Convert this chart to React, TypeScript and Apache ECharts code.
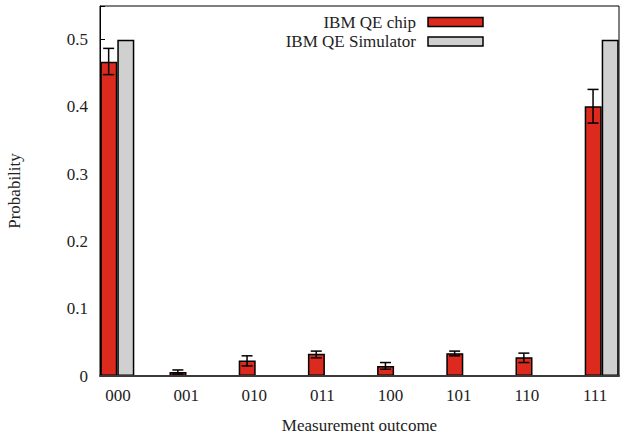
import React, { useEffect, useRef } from "react";
import * as echarts from "echarts";

const categories = ["000", "001", "010", "011", "100", "101", "110", "111"];
const chipValues = [0.467, 0.006, 0.023, 0.033, 0.015, 0.034, 0.028, 0.401];
const chipErrLow = [0.448, 0.003, 0.015, 0.027, 0.01, 0.03, 0.02, 0.376];
const chipErrHigh = [0.487, 0.009, 0.03, 0.037, 0.02, 0.037, 0.034, 0.426];
const simValues = [0.5, 0, 0, 0, 0, 0, 0, 0.5];
const yTicks = [0, 0.1, 0.2, 0.3, 0.4, 0.5];

const FONT = "Liberation Serif";
const FS = 17;
const RED = "#dc2a1e";
const GRAY = "#d0d0d0";

export default function App() {
  const ref = useRef<HTMLDivElement>(null);
  useEffect(() => {
    document.body.style.margin = "0";
    const chart = echarts.init(ref.current!, null, { renderer: "svg" });
    const chipData = chipValues.map((v, i) => [i, v]);
    const simData = simValues.map((v, i) => [i, v]);
    const errData = chipValues.map((_, i) => [i, chipErrLow[i], chipErrHigh[i]]);
    chart.setOption({
      animation: false,
      textStyle: { fontFamily: FONT },
      grid: {
        left: 100,
        right: 1,
        top: 6,
        bottom: 58,
        outerBoundsMode: "none",
        show: true,
        borderColor: "#000",
        borderWidth: 1,
        backgroundColor: "transparent",
      },
      xAxis: [
        {
          type: "value",
          position: "top",
          min: -0.25,
          max: 7.25,
          interval: 1,
          axisLine: { show: false },
          axisTick: { show: false },
          axisLabel: { show: false },
          splitLine: { show: false },
        },
        {
          type: "value",
          position: "bottom",
          min: -0.264,
          max: 7.352,
          splitNumber: 8,
          axisLine: { show: true, onZero: false, lineStyle: { color: "#3a3a3a", width: 2 } },
          axisTick: { show: false },
          splitLine: { show: false },
          axisLabel: {
            color: "#222",
            fontSize: FS,
            fontFamily: FONT,
            margin: 11,
            showMinLabel: false,
            showMaxLabel: false,
            formatter: (v: number) => {
              const i = Math.round(v);
              return Math.abs(v - i) < 1e-6 && categories[i] ? categories[i] : "";
            },
          },
          name: "Measurement outcome",
          nameLocation: "middle",
          nameGap: 41,
          nameTextStyle: { color: "#222", fontSize: FS, fontFamily: FONT },
          z: 10,
        },
      ],
      yAxis: {
        type: "value",
        min: 0,
        max: 0.55,
        interval: 0.1,
        axisLine: { show: true, onZero: false, lineStyle: { color: "#000", width: 1 } },
        axisTick: { show: true, inside: true, length: 5, lineStyle: { color: "#000" } },
        splitLine: { show: false },
        axisLabel: {
          color: "#222",
          fontSize: FS,
          fontFamily: FONT,
          margin: 12,
          formatter: (v: number) => {
            const t = yTicks.find((x) => Math.abs(x - v) < 1e-6);
            if (t === undefined) return "";
            return t === 0 ? "0" : t.toFixed(1);
          },
        },
        name: "Probability",
        nameLocation: "middle",
        nameGap: 77,
        nameTextStyle: { color: "#222", fontSize: FS, fontFamily: FONT },
      },
      series: [
        {
          name: "IBM QE chip",
          type: "bar",
          xAxisIndex: 0,
          data: chipData,
          barWidth: 17,
          barGap: "0%",
          itemStyle: { color: RED, borderColor: "#000", borderWidth: 1.5 },
          z: 2,
        },
        {
          name: "IBM QE Simulator",
          type: "bar",
          xAxisIndex: 0,
          data: simData,
          barWidth: 17,
          barGap: "0%",
          itemStyle: { color: GRAY, borderColor: "#000", borderWidth: 1.5 },
          z: 2,
        },
        {
          type: "custom",
          xAxisIndex: 0,
          data: errData,
          z: 5,
          renderItem: (params: any, api: any) => {
            const x = api.value(0) - 0.125;
            const lo = api.coord([x, api.value(1)]);
            const hi = api.coord([x, api.value(2)]);
            const hw = 5.5;
            const style = { stroke: "#000", lineWidth: 1.5 };
            return {
              type: "group",
              children: [
                { type: "line", shape: { x1: lo[0], y1: lo[1], x2: hi[0], y2: hi[1] }, style },
                { type: "line", shape: { x1: lo[0] - hw, y1: lo[1], x2: lo[0] + hw, y2: lo[1] }, style },
                { type: "line", shape: { x1: hi[0] - hw, y1: hi[1], x2: hi[0] + hw, y2: hi[1] }, style },
              ],
            };
          },
        },
      ],
      graphic: [
        {
          type: "text",
          right: 620 - 416,
          top: 14,
          style: { text: "IBM QE chip", fontSize: FS, fontFamily: FONT, fill: "#222", textAlign: "right" },
        },
        {
          type: "rect",
          shape: { x: 428, y: 17.5, width: 55, height: 9 },
          style: { fill: RED, stroke: "#000", lineWidth: 1.5 },
        },
        {
          type: "text",
          right: 620 - 416,
          top: 33,
          style: { text: "IBM QE Simulator", fontSize: FS, fontFamily: FONT, fill: "#222", textAlign: "right" },
        },
        {
          type: "rect",
          shape: { x: 428, y: 37, width: 55, height: 9 },
          style: { fill: GRAY, stroke: "#000", lineWidth: 1.5 },
        },
      ],
    });
    return () => chart.dispose();
  }, []);
  return <div ref={ref} style={{ width: 620, height: 434 }} />;
}
